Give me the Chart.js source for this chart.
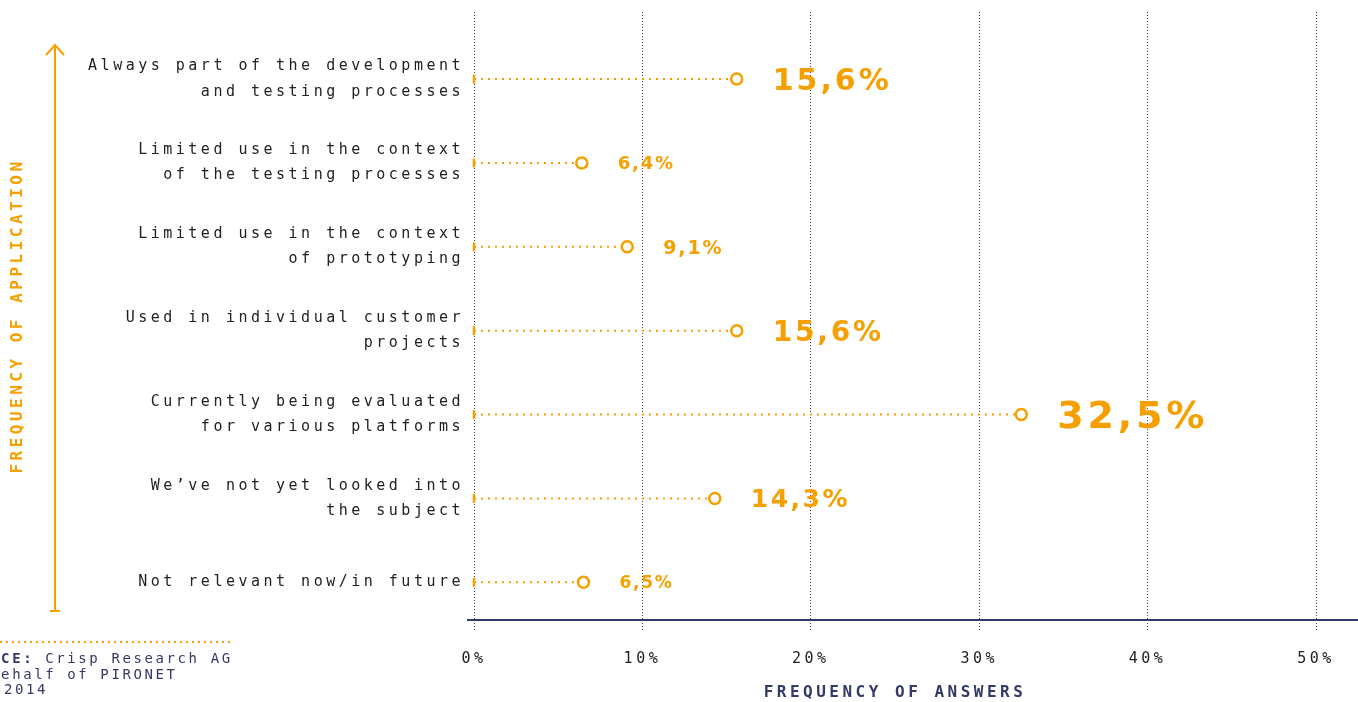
<!DOCTYPE html>
<html>
<head>
<meta charset="utf-8">
<script src="https://cdn.jsdelivr.net/npm/chart.js@4.4.1/dist/chart.umd.min.js"></script>
<style>
  html, body { margin: 0; padding: 0; background: #fff; }
  #wrap { width: 1358px; height: 702px; position: relative; }
</style>
</head>
<body>
<div id="wrap"><canvas id="grafico"></canvas></div>
<script>
// dados
const categories = [
  ['Always part of the development', 'and testing processes'],
  ['Limited use in the context', 'of the testing processes'],
  ['Limited use in the context', 'of prototyping'],
  ['Used in individual customer', 'projects'],
  ['Currently being evaluated', 'for various platforms'],
  ['We’ve not yet looked into', 'the subject'],
  ['Not relevant now/in future']
];
const values = [15.6, 6.4, 9.1, 15.6, 32.5, 14.3, 6.5];
const xTicks = [0, 10, 20, 30, 40, 50];

const LARANJA = '#f5a000';
const AZUL = '#343a66';
const MONO = '"DejaVu Sans Mono", monospace';

// tamanho da fonte de cada rótulo de valor
const labelSizes = [30, 18, 19, 28, 38, 25, 17];

const espacamento = {
  id: 'espacamento',
  beforeDraw(chart) {
    chart.ctx.letterSpacing = '3.5px';
  }
};

const rotulos = {
  id: 'rotulos',
  afterDatasetsDraw(chart) {
    const ctx = chart.ctx;
    chart.data.datasets.forEach((ds, i) => {
      const pt = chart.getDatasetMeta(i).data[1];
      const size = labelSizes[i];
      ctx.save();
      ctx.font = 'bold ' + size + 'px "DejaVu Sans"';
      ctx.letterSpacing = (size * 0.1) + 'px';
      ctx.fillStyle = LARANJA;
      ctx.textAlign = 'left';
      ctx.textBaseline = 'alphabetic';
      ctx.fillText(values[i].toFixed(1).replace('.', ',') + '%', pt.x + 36, pt.y + size * 0.36);
      ctx.restore();
    });
  }
};

const enfeites = {
  id: 'enfeites',
  afterDraw(chart) {
    const ctx = chart.ctx;
    const area = chart.chartArea;
    ctx.save();
    // linha do eixo x
    ctx.strokeStyle = AZUL;
    ctx.lineWidth = 2;
    ctx.beginPath();
    ctx.moveTo(area.left - 7, area.bottom);
    ctx.lineTo(chart.width, area.bottom);
    ctx.stroke();

    // seta vertical
    ctx.strokeStyle = LARANJA;
    ctx.lineWidth = 2;
    ctx.beginPath();
    ctx.moveTo(55, 45);
    ctx.lineTo(55, 611);
    ctx.moveTo(46, 55);
    ctx.lineTo(55, 45);
    ctx.lineTo(64, 55);
    ctx.moveTo(50, 611);
    ctx.lineTo(60, 611);
    ctx.stroke();

    // fonte
    ctx.setLineDash([2, 4]);
    ctx.beginPath();
    ctx.moveTo(0, 642);
    ctx.lineTo(232, 642);
    ctx.stroke();
    ctx.setLineDash([]);

    ctx.letterSpacing = '2.6px';
    ctx.fillStyle = AZUL;
    ctx.textAlign = 'left';
    ctx.textBaseline = 'middle';
    ctx.font = 'bold 14px ' + MONO;
    ctx.fillText('SOURCE:', -43, 659);
    const w = ctx.measureText('SOURCE: ').width;
    ctx.font = '14px ' + MONO;
    ctx.fillText('Crisp Research AG', -43 + w, 659);
    ctx.fillText('on behalf of PIRONET', -43, 675);
    ctx.fillText('2014', 4, 690);
    ctx.restore();
  }
};

const datasets = values.map((v, i) => ({
  data: [{x: 0, y: i}, {x: v, y: i}],
  showLine: true,
  borderColor: LARANJA,
  borderWidth: 2,
  borderDash: [2, 5],
  pointStyle: ['line', 'circle'],
  pointRotation: [90, 0],
  pointRadius: [4.5, 5.5],
  pointBorderWidth: [2.5, 2.5],
  pointBorderColor: LARANJA,
  pointBackgroundColor: '#fff',
  pointHoverRadius: [4.5, 5.5],
  clip: false
}));

const ctx = document.getElementById('grafico').getContext('2d');

new Chart(ctx, {
  type: 'scatter',
  data: { datasets: datasets },
  options: {
    responsive: true,
    maintainAspectRatio: false,
    animation: false,
    layout: { padding: { top: 12, right: 42, bottom: 0, left: 0 } },
    plugins: {
      legend: { display: false },
      tooltip: { enabled: false }
    },
    scales: {
      x: {
        type: 'linear',
        min: 0,
        max: 50,
        afterBuildTicks: (scale) => { scale.ticks = xTicks.map(v => ({ value: v })); },
        afterFit: (scale) => { scale.height = 82; },
        grid: {
          color: AZUL,
          lineWidth: 1,
          drawTicks: true,
          tickLength: 12,
          tickBorderDash: [1, 2],
          tickColor: AZUL
        },
        border: { display: false, dash: [1, 2] },
        ticks: {
          padding: 18,
          color: '#222',
          font: { family: MONO, size: 15 },
          callback: (v) => v + '%'
        },
        title: {
          display: true,
          text: 'FREQUENCY OF ANSWERS',
          color: AZUL,
          font: { family: MONO, size: 16, weight: 'bold' },
          padding: { top: 0, bottom: 0 }
        }
      },
      y: {
        type: 'linear',
        reverse: true,
        min: -0.8,
        max: 6.45,
        afterBuildTicks: (scale) => { scale.ticks = categories.map((c, i) => ({ value: i })); },
        afterFit: (scale) => {
          scale.width = 474;
          scale.paddingTop = 0;
          scale.paddingBottom = 0;
        },
        grid: { display: false, drawTicks: false },
        border: { display: false },
        ticks: {
          autoSkip: false,
          padding: 10,
          color: '#222',
          font: { family: MONO, size: 15, lineHeight: 1.67 },
          callback: (v) => categories[v]
        },
        title: {
          display: true,
          text: 'FREQUENCY OF APPLICATION',
          color: LARANJA,
          font: { family: MONO, size: 16, weight: 'bold' },
          padding: { top: 8, bottom: 0 }
        }
      }
    }
  },
  plugins: [espacamento, rotulos, enfeites]
});
</script>
</body>
</html>
